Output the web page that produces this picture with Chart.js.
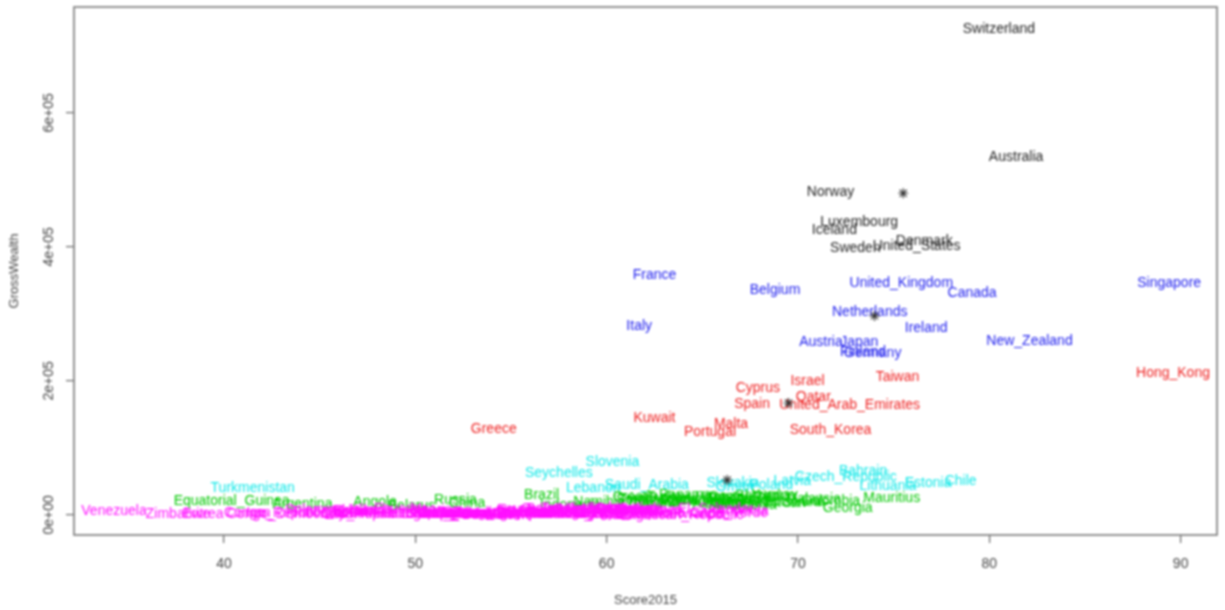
<!DOCTYPE html>
<html>
<head>
<meta charset="utf-8">
<script src="https://cdn.jsdelivr.net/npm/chart.js@4.4.1/dist/chart.umd.min.js"></script>
<style>
html, body { margin: 0; padding: 0; background: #fff; }
#wrap { position: relative; width: 1225px; height: 610px; }
#c { filter: blur(0.8px); }
</style>
</head>
<body>
<div id="wrap"><canvas id="c"></canvas></div>
<script>
// k-means clusters of countries: Score2015 vs GrossWealth, labels coloured by cluster
var xTicks = [40, 50, 60, 70, 80, 90];
var yTicks = [0, 200000, 400000, 600000];
var yTickLabels = ['0e+00', '2e+05', '4e+05', '6e+05'];

var blackNames = ['Switzerland', 'Australia', 'Norway', 'Luxembourg', 'Iceland', 'Sweden', 'United_States', 'Denmark'];
var blackScore = [80.5, 81.4, 71.7, 73.2, 71.9, 73.0, 76.2, 76.6];
var blackWealth = [725000, 534000, 482000, 437000, 425000, 398000, 401000, 409000];

var blueNames = ['France', 'Belgium', 'Italy', 'United_Kingdom', 'Canada', 'Singapore', 'Netherlands', 'Ireland',
  'New_Zealand', 'Austria', 'Japan', 'Finland', 'Germany'];
var blueScore = [62.5, 68.8, 61.7, 75.4, 79.1, 89.4, 73.75, 76.7, 82.1, 71.2, 73.2, 73.4, 73.9];
var blueWealth = [358000, 336000, 281000, 346000, 331000, 346000, 303000, 279000, 260000, 258000, 258000, 243000, 242000];

var redNames = ['Hong_Kong', 'Taiwan', 'Israel', 'Cyprus', 'Qatar', 'Spain', 'United_Arab_Emirates', 'Kuwait',
  'Malta', 'Portugal', 'South_Korea', 'Greece'];
var redScore = [89.6, 75.2, 70.5, 67.9, 70.8, 67.6, 72.7, 62.5, 66.5, 65.4, 71.7, 54.1];
var redWealth = [212000, 206000, 200000, 189000, 176000, 166000, 164000, 145000, 136000, 124000, 127000, 128000];

var cyanNames = ['Turkmenistan', 'Seychelles', 'Slovenia', 'Lebanon', 'Saudi_Arabia', 'Oman', 'Slovakia', 'Latvia',
  'Poland', 'Czech_Republic', 'Bahrain', 'Estonia', 'Lithuania', 'Chile'];
var cyanScore = [41.5, 57.5, 60.3, 59.3, 62.1, 66.7, 66.6, 69.7, 68.6, 72.5, 73.4, 76.8, 74.7, 78.5];
var cyanWealth = [40000, 63000, 79000, 40000, 45000, 42000, 48000, 50000, 45000, 57000, 66000, 48000, 43000, 50000];

var greenNames = ['Equatorial_Guinea', 'Argentina', 'Angola', 'Belarus', 'Russia', 'China', 'Brazil', 'Indonesia',
  'Namibia', 'Croatia', 'South_Africa', 'Thailand', 'Turkey', 'Kazakhstan', 'Panama', 'Trinidad_and_Tobago',
  'Montenegro', 'Albania', 'Hungary', 'Romania', 'Mexico', 'Bulgaria', 'Costa_Rica', 'Macedonia', 'Peru',
  'Barbados', 'Uruguay', 'Jordan', 'Botswana', 'Malaysia', 'Colombia', 'Georgia', 'Mauritius'];
var greenScore = [40.4, 44.1, 47.9, 49.8, 52.1, 52.7, 56.6, 58.1, 59.6, 61.5, 62.6, 62.4, 63.2, 63.3, 64.1, 64.1,
  64.7, 65.7, 66.0, 66.6, 66.4, 66.8, 67.2, 67.1, 67.7, 68.3, 68.6, 69.3, 69.8, 70.8, 71.7, 72.6, 74.9];
var greenWealth = [21000, 16000, 19000, 13000, 22000, 17000, 30000, 15000, 19000, 26000, 22000, 18000, 27000, 20000,
  29000, 24000, 21000, 16000, 27000, 19000, 23000, 17000, 26000, 14000, 20000, 28000, 30000, 17000, 19000, 24000,
  21000, 10000, 25000];

var magentaNames = ['Venezuela', 'Zimbabwe', 'Eritrea', 'Iran', 'Congo_Republic', 'Congo_Democratic_Republic',
  'Timor_Leste', 'Chad', 'Solomon_Islands', 'Bolivia', 'Myanmar', 'Ukraine', 'Uzbekistan', 'Haiti', 'Ecuador',
  'Lesotho', 'Togo', 'Algeria', 'Laos', 'Nepal', 'Ethiopia', 'Sierra_Leone', 'Vietnam', 'Cameroon', 'Guinea_Bissau',
  'Guinea', 'Tajikistan', 'Liberia', 'Papua_New_Guinea', 'Burundi', 'Bangladesh', 'India', 'Niger', 'Mozambique',
  'Malawi', 'Egypt', 'Nigeria', 'Kenya', 'Pakistan', 'Djibouti', 'Mali', 'Guyana', 'Belize', 'Honduras', 'Moldova',
  'Cambodia', 'Tanzania', 'Gambia', 'Tunisia', 'Senegal', 'Gabon', 'Burkina_Faso', 'Nicaragua', 'Benin', 'Bosnia',
  'Uganda', 'Swaziland', 'Serbia', 'Morocco', 'Zambia', 'Fiji', 'Sri_Lanka', 'Azerbaijan', 'Kyrgyz_Republic',
  'Mongolia', 'Madagascar', 'Philippines', 'Paraguay', 'Guatemala', 'Ghana', 'Dominican_Republic', 'El_Salvador',
  'Rwanda', 'Cape_Verde', 'Armenia'];
var magentaScore = [34.25, 37.6, 38.9, 41.8, 42.7, 44.9, 45.5, 45.9, 46.0, 46.8, 46.9, 46.9, 47.0, 48.9, 49.2, 49.6,
  49.9, 50.8, 51.2, 51.3, 51.5, 51.7, 51.7, 51.9, 52.0, 52.1, 52.7, 52.7, 53.1, 53.7, 53.9, 54.6, 54.6, 54.8, 54.8,
  55.2, 55.6, 55.6, 55.6, 56.0, 56.4, 56.8, 56.8, 57.4, 57.5, 57.5, 57.5, 57.5, 57.7, 57.8, 58.3, 58.6, 58.6, 58.8,
  59.0, 59.7, 59.9, 60.0, 60.1, 60.4, 60.6, 60.7, 61.0, 61.3, 61.5, 61.7, 62.2, 61.1, 61.2, 63.0, 63.8, 65.7, 64.8,
  66.4, 67.1];
var magentaWealth = [6000, 1500, 500, 3000, 2000, 1000, 3500, 1000, 6500, 6000, 500, 5000, 4000, 1000, 8000, 2000,
  1000, 7000, 2500, 1500, 500, 1000, 3500, 2000, 500, 500, 2500, 1000, 3000, 300, 2500, 4500, 500, 1000, 300, 7000,
  2000, 3000, 4000, 2000, 1000, 8000, 9000, 4000, 3000, 1500, 1500, 500, 9000, 2000, 8500, 500, 5000, 1500, 8000,
  1000, 6000, 9500, 8000, 2500, 7000, 6000, 9000, 3000, 5000, 300, 7000, 7500, 9000, 2500, 0, 8000, 1000, 3000, 6000];

// visible cluster centres, drawn as asterisks
var centerScore = [75.5, 74.0, 69.5, 66.3];
var centerWealth = [480000, 297000, 167000, 52000];

var labelFont = '14px "Liberation Sans", Arial, sans-serif';

function pts(xs, ys) {
  return xs.map(function(x, i) { return { x: x, y: ys[i] }; });
}

function labelSet(names, xs, ys, color) {
  return { names: names, textColor: color, data: pts(xs, ys), pointRadius: 0, pointHoverRadius: 0 };
}

var rPlot = {
  id: 'rPlot',
  beforeDatasetsDraw: function(chart) {
    var ctx = chart.ctx;
    ctx.save();
    ctx.font = labelFont;
    ctx.textAlign = 'center';
    ctx.textBaseline = 'middle';
    chart.data.datasets.forEach(function(ds, di) {
      if (!ds.names) return;
      var meta = chart.getDatasetMeta(di);
      ctx.fillStyle = ds.textColor;
      meta.data.forEach(function(p, i) { ctx.fillText(ds.names[i], p.x, p.y); });
    });
    ctx.restore();
  },
  afterDraw: function(chart) {
    var ctx = chart.ctx, a = chart.chartArea, ys = chart.scales.y;
    ctx.save();
    ctx.strokeStyle = '#777';
    ctx.lineWidth = 1.6;
    ctx.strokeRect(a.left, a.top, a.right - a.left, a.bottom - a.top);
    ctx.fillStyle = '#444';
    ctx.font = labelFont;
    ctx.textAlign = 'center';
    ctx.textBaseline = 'middle';
    yTicks.forEach(function(v, i) {
      ctx.save();
      ctx.translate(49, ys.getPixelForValue(v));
      ctx.rotate(-Math.PI / 2);
      ctx.fillText(yTickLabels[i], 0, 0);
      ctx.restore();
    });
    ctx.font = '13px "Liberation Sans", Arial, sans-serif';
    ctx.fillText('Score2015', (a.left + a.right) / 2, 600);
    ctx.save();
    ctx.translate(14, (a.top + a.bottom) / 2);
    ctx.rotate(-Math.PI / 2);
    ctx.fillText('GrossWealth', 0, 0);
    ctx.restore();
    ctx.restore();
  }
};

new Chart(document.getElementById('c'), {
  type: 'scatter',
  data: {
    datasets: [
      { data: pts(centerScore, centerWealth), pointStyle: 'star', pointRadius: 5, borderColor: '#333',
        borderWidth: 1.2, backgroundColor: '#333', pointHoverRadius: 5 },
      labelSet(blackNames, blackScore, blackWealth, '#222222'),
      labelSet(blueNames, blueScore, blueWealth, '#2020ee'),
      labelSet(redNames, redScore, redWealth, '#ee2020'),
      labelSet(cyanNames, cyanScore, cyanWealth, '#10e8e8'),
      labelSet(greenNames, greenScore, greenWealth, '#00c800'),
      labelSet(magentaNames, magentaScore, magentaWealth, '#ff10ff')
    ]
  },
  options: {
    responsive: true, maintainAspectRatio: false, animation: false,
    layout: { padding: { top: 7, right: 8, left: 0, bottom: 0 } },
    plugins: { legend: { display: false }, tooltip: { enabled: false } },
    events: [],
    scales: {
      x: {
        type: 'linear', min: 32.16, max: 91.9,
        afterBuildTicks: function(s) { s.ticks = xTicks.map(function(v) { return { value: v }; }); },
        afterFit: function(s) { s.height = 75; },
        grid: { drawOnChartArea: false, drawTicks: true, tickLength: 8, color: '#666', lineWidth: 1.2 },
        border: { display: false },
        ticks: { color: '#444', padding: 13, maxRotation: 0, font: { family: '"Liberation Sans", Arial, sans-serif', size: 14 } }
      },
      y: {
        type: 'linear', min: -30000, max: 758000,
        afterBuildTicks: function(s) { s.ticks = yTicks.map(function(v) { return { value: v }; }); },
        afterFit: function(s) { s.width = 74; },
        grid: { drawOnChartArea: false, drawTicks: true, tickLength: 8, color: '#666', lineWidth: 1.2 },
        border: { display: false },
        ticks: { display: false }
      }
    }
  },
  plugins: [rPlot]
});
</script>
</body>
</html>
